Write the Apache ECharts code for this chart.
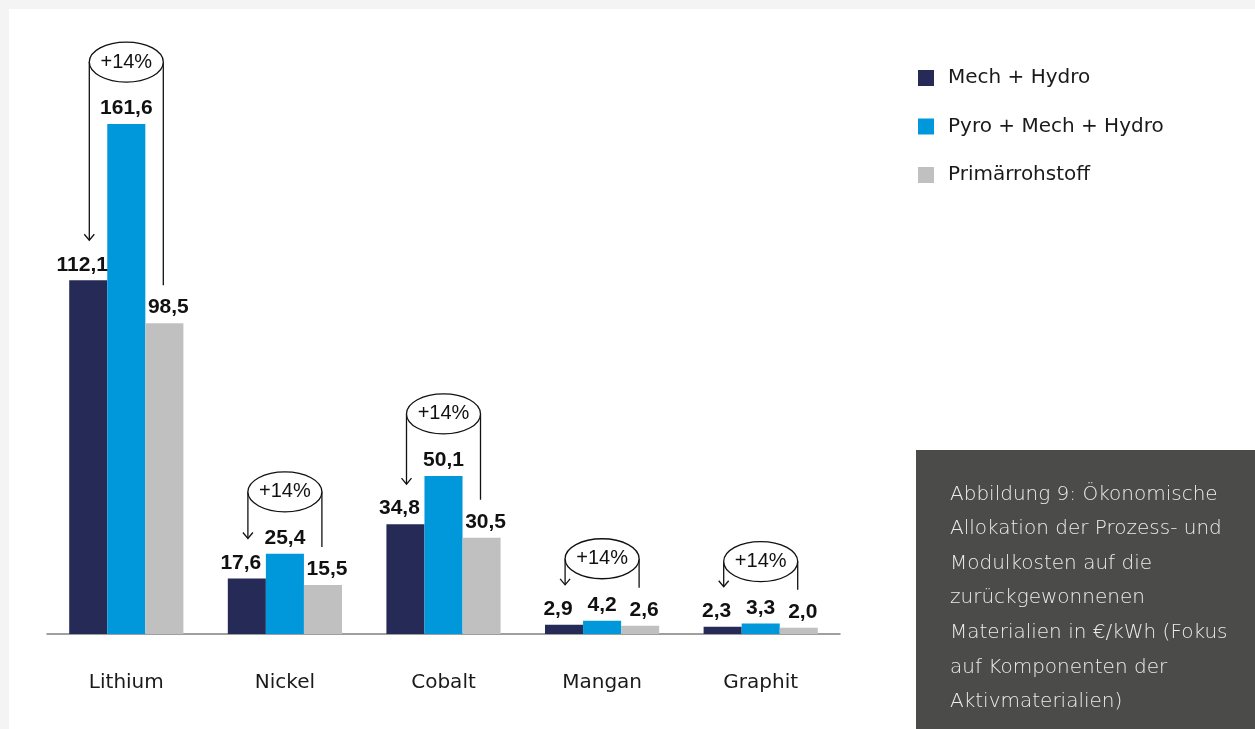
<!DOCTYPE html>
<html>
<head>
<meta charset="utf-8">
<script src="https://cdn.jsdelivr.net/npm/echarts@6/dist/echarts.min.js"></script>
<style>
html,body{margin:0;padding:0;background:#f4f4f4;}
#c{width:1255px;height:729px;}
</style>
</head>
<body>
<div id="c"></div>
<script>
const categories = ['Lithium', 'Nickel', 'Cobalt', 'Mangan', 'Graphit'];
const seriesNames = ['Mech + Hydro', 'Pyro + Mech + Hydro', 'Primärrohstoff'];
const mechHydro = [112.1, 17.6, 34.8, 2.9, 2.3];
const pyroMechHydro = [161.6, 25.4, 50.1, 4.2, 3.3];
const primaer = [98.5, 15.5, 30.5, 2.6, 2.0];
const changeLabels = ['+14%', '+14%', '+14%', '+14%', '+14%'];
const captionLines = [
  'Abbildung 9: Ökonomische',
  'Allokation der Prozess- und',
  'Modulkosten auf die',
  'zurückgewonnenen',
  'Materialien in €/kWh (Fokus',
  'auf Komponenten der',
  'Aktivmaterialien)'
];

const colors = ['#252a56', '#0098db', '#c0c0c0'];
const fmt = v => v.toFixed(1).replace('.', ',');

const annotData = categories.map((c, i) => [i, mechHydro[i], pyroMechHydro[i], primaer[i], changeLabels[i]]);

function labelCfg(dx) {
  return {
    show: true, position: 'top', distance: 5, offset: [dx, 0],
    fontFamily: 'Liberation Sans', fontWeight: 'bold', fontSize: 21, color: '#111',
    formatter: p => fmt(p.value)
  };
}

const chart = echarts.init(document.getElementById('c'), null, {renderer: 'canvas'});
chart.setOption({
  animation: false,
  backgroundColor: '#f4f4f4',
  grid: {left: 47, right: 415, top: 66, bottom: 95},
  legend: {
    orient: 'vertical', left: 918, top: 68, itemGap: 28.5,
    itemWidth: 16, itemHeight: 16, icon: 'rect', padding: 0,
    textStyle: {fontFamily: 'DejaVu Sans', fontSize: 20, color: '#1a1a1a', padding: [0, 0, 0, 9]},
    data: seriesNames
  },
  xAxis: {
    type: 'category', data: categories,
    axisLine: {lineStyle: {color: '#808080', width: 1.5}},
    axisTick: {show: false},
    axisLabel: {fontFamily: 'DejaVu Sans', fontSize: 20, color: '#1a1a1a', margin: 39}
  },
  yAxis: {type: 'value', min: 0, max: 180, show: false, splitLine: {show: false}},
  graphic: [
    {type: 'rect', left: 9, top: 9, shape: {width: 1246, height: 720}, style: {fill: '#ffffff'}, z: -10, silent: true},
    {type: 'rect', left: 916, top: 450, shape: {width: 339, height: 279}, style: {fill: '#4b4b4a'}, z: 1, silent: true},
    {type: 'text', left: 950, top: 477, z: 2, silent: true,
      style: {text: captionLines.join('\n'), fontFamily: 'DejaVu Sans', fontWeight: 300, fontSize: 20, lineHeight: 34.6, fill: '#ececec'}}
  ],
  series: [
    {name: seriesNames[0], type: 'bar', data: mechHydro, barGap: '0%', barCategoryGap: '28%',
      itemStyle: {color: colors[0]}, label: labelCfg(-6)},
    {name: seriesNames[1], type: 'bar', data: pyroMechHydro, barGap: '0%', barCategoryGap: '28%',
      itemStyle: {color: colors[1]}, label: labelCfg(0)},
    {name: seriesNames[2], type: 'bar', data: primaer, barGap: '0%', barCategoryGap: '28%',
      itemStyle: {color: colors[2]}, label: labelCfg(4)},
    {
      type: 'custom', data: annotData, z: 5, silent: true,
      encode: {x: 0, y: 2},
      renderItem: function (params, api) {
        const cat = api.value(0);
        const cx = api.coord([cat, 0])[0];
        const yDark = api.coord([cat, api.value(1)])[1];
        const yBlue = api.coord([cat, api.value(2)])[1];
        const yGray = api.coord([cat, api.value(3)])[1];
        const rx = 37, ry = 20;
        const cy = yBlue - 62;
        const tip = yDark - 40;
        const rEnd = yGray - 38;
        const lx = cx - rx, rxx = cx + rx;
        const ls = {stroke: '#111', lineWidth: 1.3, fill: null};
        return {
          type: 'group',
          children: [
            {type: 'line', shape: {x1: lx, y1: cy, x2: lx, y2: tip}, style: ls},
            {type: 'polyline', shape: {points: [[lx - 5, tip - 6], [lx, tip], [lx + 5, tip - 6]]}, style: ls},
            {type: 'line', shape: {x1: rxx, y1: cy, x2: rxx, y2: rEnd}, style: ls},
            {type: 'ellipse', shape: {cx: cx, cy: cy, rx: rx, ry: ry},
              style: {fill: '#ffffff', stroke: '#111', lineWidth: 1.3}},
            {type: 'text', x: cx, y: cy,
              style: {text: api.value(4), fontFamily: 'Liberation Sans', fontSize: 20, fill: '#111',
                align: 'center', verticalAlign: 'middle'}}
          ]
        };
      }
    }
  ]
});
</script>
</body>
</html>
